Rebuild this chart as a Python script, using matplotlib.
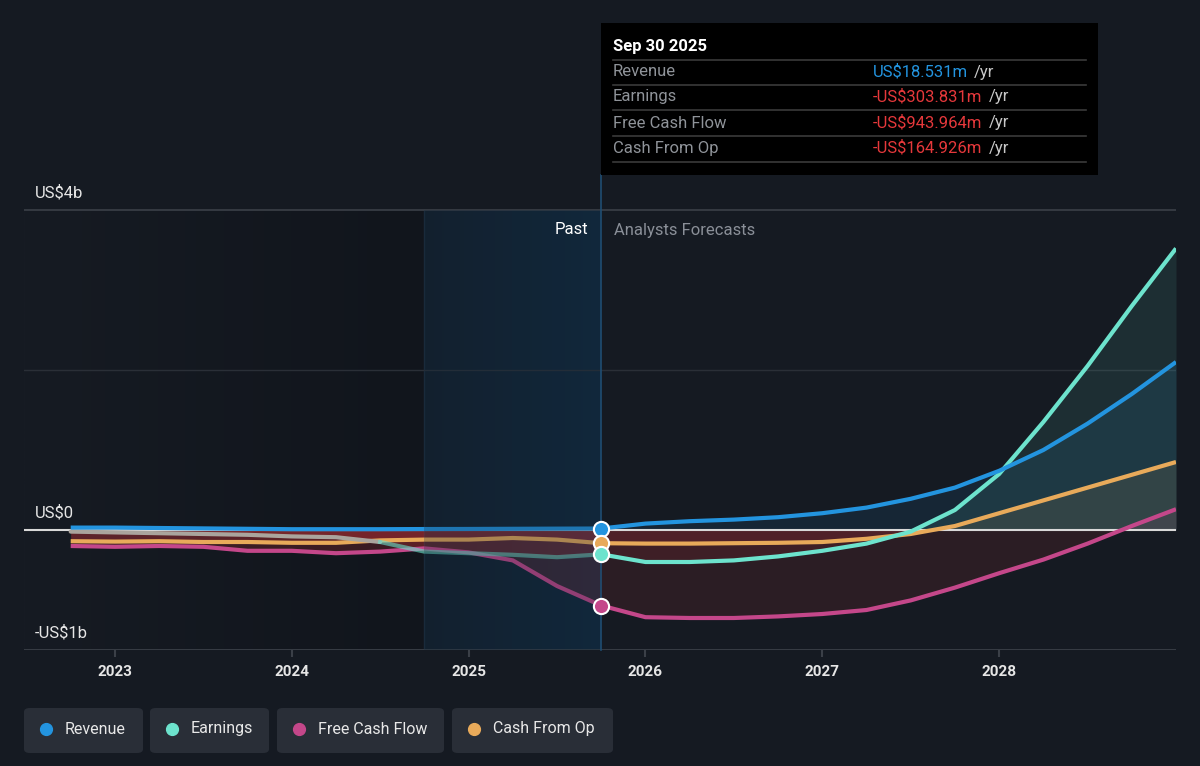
import matplotlib
matplotlib.use("Agg")
import matplotlib.pyplot as plt
from matplotlib.patches import FancyBboxPatch, Rectangle
from matplotlib.colors import LinearSegmentedColormap
import numpy as np

plt.rcParams['font.family'] = ['Roboto', 'DejaVu Sans']

# ---------------- data (US$ billions) ----------------
past_x = [2022.75, 2023.0, 2023.25, 2023.5, 2023.75, 2024.0, 2024.25, 2024.5,
          2024.75, 2025.0, 2025.25, 2025.5, 2025.75]
rev_past = [0.03, 0.03, 0.025, 0.02, 0.015, 0.01, 0.01, 0.01, 0.012, 0.013, 0.015, 0.017, 0.0185]
earn_past = [-0.02, -0.03, -0.04, -0.05, -0.06, -0.08, -0.09, -0.15, -0.27, -0.29, -0.31, -0.34, -0.304]
fcf_past = [-0.20, -0.21, -0.20, -0.21, -0.26, -0.26, -0.29, -0.27, -0.23, -0.28, -0.38, -0.70, -0.944]
cfo_past = [-0.14, -0.145, -0.14, -0.15, -0.15, -0.16, -0.16, -0.13, -0.12, -0.12, -0.10, -0.12, -0.165]

fc_x = [2025.75, 2026.0, 2026.25, 2026.5, 2026.75, 2027.0, 2027.25, 2027.5, 2027.75,
        2028.0, 2028.25, 2028.5, 2028.75, 2029.0]
rev_fc = [0.0185, 0.08, 0.11, 0.13, 0.16, 0.21, 0.28, 0.39, 0.53, 0.74, 1.00, 1.33, 1.70, 2.10]
earn_fc = [-0.304, -0.40, -0.40, -0.38, -0.33, -0.26, -0.17, -0.02, 0.25, 0.70, 1.35, 2.05, 2.80, 3.52]
fcf_fc = [-0.944, -1.09, -1.10, -1.10, -1.08, -1.05, -1.00, -0.88, -0.72, -0.54, -0.37, -0.17, 0.05, 0.26]
cfo_fc = [-0.165, -0.17, -0.17, -0.165, -0.16, -0.15, -0.11, -0.05, 0.05, 0.21, 0.37, 0.53, 0.69, 0.85]

series_names = ["Revenue", "Earnings", "Free Cash Flow", "Cash From Op"]
series_colors = ["#2394df", "#6de3cd", "#c4478a", "#e8aa5a"]
tooltip_date = "Sep 30 2025"
tooltip_values = ["US$18.531m", "-US$303.831m", "-US$943.964m", "-US$164.926m"]
year_ticks = [2023, 2024, 2025, 2026, 2027, 2028]
y_labels = {4.0: "US$4b", 0.0: "US$0", -1.5: "-US$1b"}

now_x = 2025.75
past_start = 2024.75

# ---------------- figure ----------------
BG = "#151a22"
fig = plt.figure(figsize=(12, 7.66), dpi=100, facecolor=BG)
ax = fig.add_axes([24 / 1200, (766 - 650) / 766, 1152 / 1200, 475 / 766])
ax.set_facecolor(BG)
xmin, xmax = 2022.486, 2029.0
ymin, ymax = -1.5, 4.4375
ax.set_xlim(xmin, xmax)
ax.set_ylim(ymin, ymax)
for s in ax.spines.values():
    s.set_visible(False)
ax.set_xticks([])
ax.set_yticks([])

grad = np.linspace(0, 1, 256).reshape(1, -1)
cm_left = LinearSegmentedColormap.from_list("l", ["#161b23", "#11151c"])
ax.imshow(grad, extent=[xmin, past_start, ymin, 4.0], aspect="auto", cmap=cm_left, zorder=0)
cm_past = LinearSegmentedColormap.from_list("p", ["#131e2a", "#11283c"])
ax.imshow(grad, extent=[past_start, now_x, ymin, 4.0], aspect="auto", cmap=cm_past, zorder=0)
ax.axvline(past_start, ymin=0, ymax=(4.0 - ymin) / (ymax - ymin), color="#1c2c3b", lw=1, zorder=1)

# grid lines
ax.axhline(4.0, color="#3b4048", lw=1.2, zorder=1)
ax.axhline(2.0, color="#2a2f37", lw=1.0, zorder=1)
ax.axhline(-1.5, color="#3b4048", lw=2, zorder=1)

# fills
all_x = np.array(past_x + fc_x[1:])
series_past = [rev_past, earn_past, fcf_past, cfo_past]
series_fc = [rev_fc, earn_fc, fcf_fc, cfo_fc]
for sp, sf, col in zip(series_past, series_fc, series_colors):
    vals = np.array(sp + sf[1:])
    ax.fill_between(all_x, vals, 0, where=vals >= 0, interpolate=True, color=col, alpha=0.10, lw=0, zorder=2)
    # forecast negative part
    m = all_x >= now_x
    ax.fill_between(all_x[m], vals[m], 0, where=vals[m] <= 0, interpolate=True, color="#e0383b",
                    alpha=0.11, lw=0, zorder=2)
    # past negative part (denser)
    mp = all_x <= now_x
    ax.fill_between(all_x[mp], vals[mp], 0, where=vals[mp] <= 0, interpolate=True, color="#e0383b",
                    alpha=0.20, lw=0, zorder=2)

# zero line
ax.axhline(0, color="#d9d9d9", lw=1.5, zorder=3)

# lines
px = np.array(past_x)
for i in [3, 2, 1, 0]:
    sp = np.array(series_past[i])
    if i == 1:
        k = px <= 2024.5
        ax.plot(px[k], sp[k], color="#aaa49d", lw=3, zorder=4, solid_capstyle="round")
        k2 = px >= 2024.5
        ax.plot(px[k2], sp[k2], color=series_colors[i], lw=3, alpha=0.6, zorder=4)
    else:
        ax.plot(px, sp, color=series_colors[i], lw=3, zorder=4, solid_capstyle="butt")
    ax.plot(fc_x, series_fc[i], color=series_colors[i], lw=3, zorder=4, solid_capstyle="butt")

# highlight overlay that mutes past lines
ax.add_patch(Rectangle((past_start, ymin), now_x - past_start, 4.0 - ymin, facecolor="#12283b",
                       alpha=0.28, edgecolor="none", zorder=5))

# now line
ax.plot([now_x, now_x], [ymin, ymax], color="#1f4d72", lw=1.2, zorder=5, clip_on=False)

# markers
for i in [0, 3, 1, 2]:
    ax.scatter([now_x], [series_past[i][-1]], s=120, color=series_colors[i], edgecolors="white",
               linewidths=1.5, zorder=6)

# y labels
for val, lab in y_labels.items():
    ax.annotate(lab, xy=(xmin, val), xytext=(8, 7), textcoords="offset points",
                color="#e6e6e6", fontsize=12, va="bottom", ha="left", zorder=7)

# year ticks
for yr in year_ticks:
    ax.plot([yr], [ymin], marker=3, markersize=5, color="#3b4048", mew=1.5,
            clip_on=False, zorder=1)
    ax.annotate(str(yr), xy=(yr, ymin), xytext=(0, -11), textcoords="offset points",
                ha="center", va="top", color="#e6e6e6", fontsize=11, fontweight="bold")

# Past / Analysts Forecasts labels
ax.annotate("Past", xy=(now_x, 4.0), xytext=(-9, -9), textcoords="offset points",
            ha="right", va="top", color="#ffffff", fontsize=12, zorder=7)
ax.annotate("Analysts Forecasts", xy=(now_x, 4.0), xytext=(9, -9), textcoords="offset points",
            ha="left", va="top", color="#8a8f98", fontsize=12, zorder=7)

# ---------------- tooltip ----------------
def fx(p):
    return p / 1200

def fy(p):
    return 1 - p / 766

fig.patches.append(Rectangle((fx(601), fy(175)), fx(1098) - fx(601), fy(23) - fy(175),
                             transform=fig.transFigure, facecolor="#000000", edgecolor="none", zorder=10))
fig.text(fx(613), fy(46), tooltip_date, color="white", fontsize=12, fontweight="bold",
         va="center", ha="left", zorder=11)
row_y = [72, 97, 123, 148]
sep_y = [60, 85, 110, 136, 162]
for sy in sep_y:
    fig.add_artist(plt.Line2D([fx(613), fx(1086)], [fy(sy), fy(sy)], transform=fig.transFigure,
                              color="#3a3a3a", lw=1.2, zorder=11))
value_texts = []
for name, val, ry, col in zip(series_names, tooltip_values, row_y,
                              ["#2394df", "#e5383b", "#e5383b", "#e5383b"]):
    fig.text(fx(613), fy(ry), name, color="#8f9399", fontsize=12, va="center", ha="left", zorder=11)
    value_texts.append(fig.text(fx(873), fy(ry), val, color=col, fontsize=12, va="center",
                                ha="left", zorder=11))
renderer = fig.canvas.get_renderer()
for ry, txt in zip(row_y, value_texts):
    bb = txt.get_window_extent(renderer=renderer)
    fig.text(bb.x1 / 1200 + fx(6), fy(ry), "/yr", color="#c8c8c8", fontsize=12, va="center",
             ha="left", zorder=11)

# ---------------- legend buttons ----------------
btns = [(24, 143), (150, 269), (277, 444), (452, 613)]
for (x0, x1), name, col in zip(btns, series_names, series_colors):
    fig.patches.append(FancyBboxPatch((fx(x0), fy(753)), fx(x1 - x0), fy(708) - fy(753),
                                      boxstyle="round,pad=0,rounding_size=0.005",
                                      transform=fig.transFigure, facecolor="#292e37",
                                      edgecolor="none", zorder=10))
    fig.add_artist(plt.Line2D([fx(x0 + 22)], [fy(729)], marker="o", markersize=8.5, color=col,
                              transform=fig.transFigure, zorder=11, lw=0))
    fig.text(fx(x0 + 41), fy(729), name, color="#e8e8e8", fontsize=11.5, va="center", ha="left",
             zorder=11)

fig.savefig("out.png", dpi=100, facecolor=BG)
